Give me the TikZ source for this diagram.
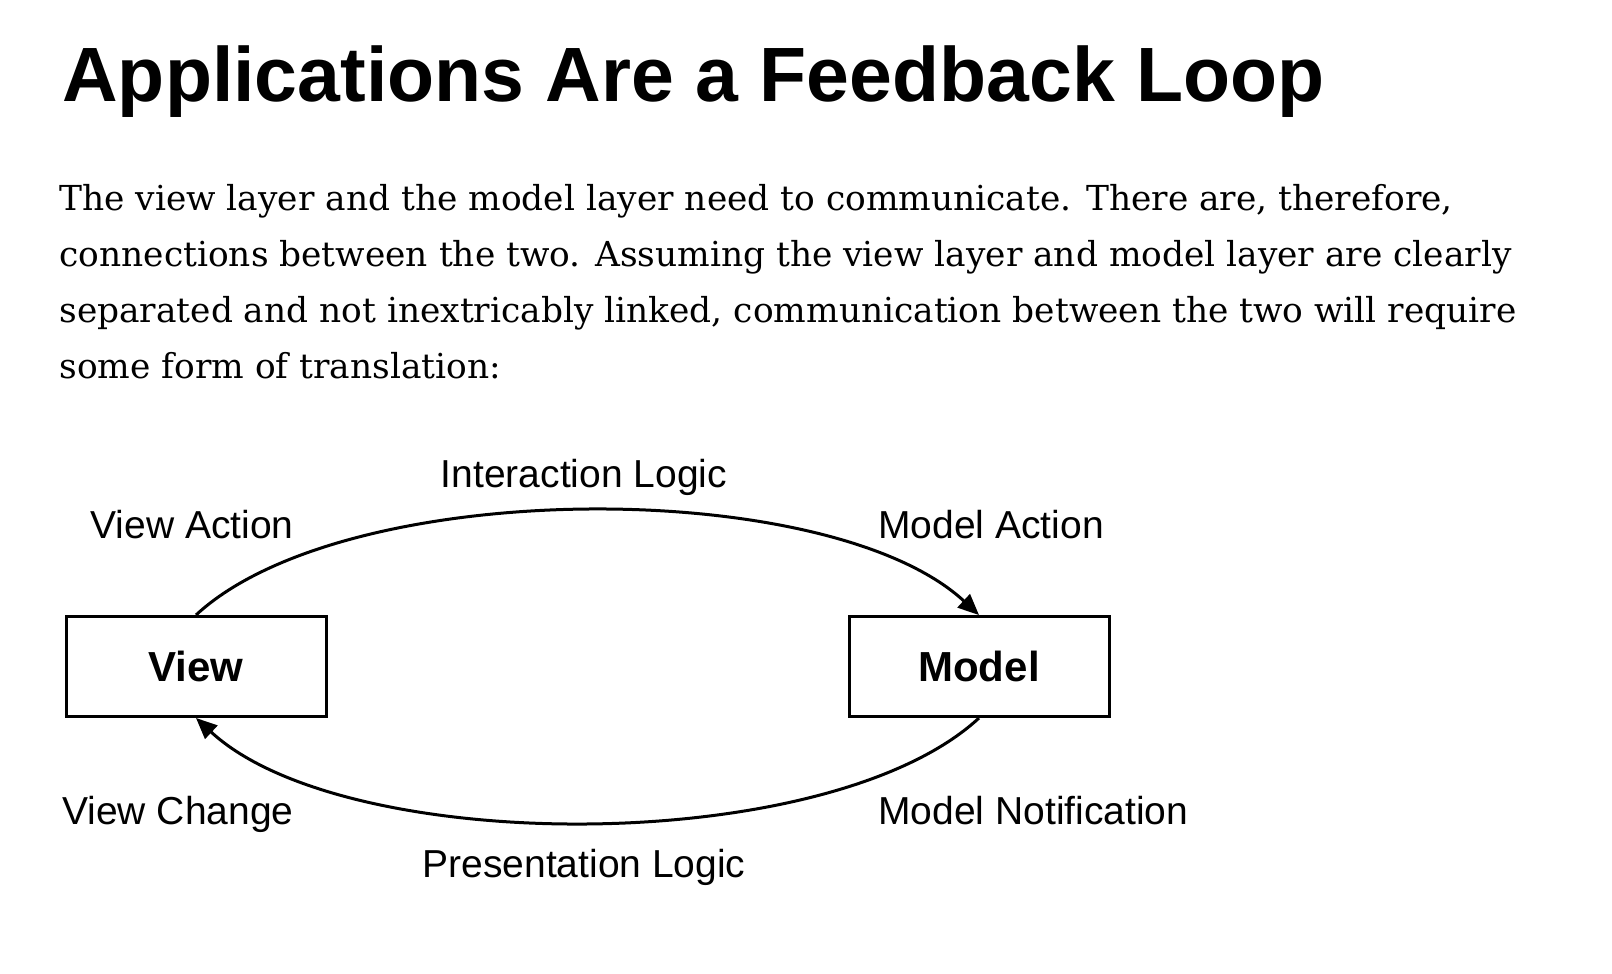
\documentclass[tikz,border=0pt]{standalone}
\usepackage{fontspec}
\setmainfont{DejaVu Serif}
\newfontfamily\grotesk{Liberation Sans}
\usetikzlibrary{positioning,arrows.meta}

\begin{document}
\begin{tikzpicture}[
  x=0.5pt, y=-0.5pt,
  layer/.style={draw, line width=1.5pt, minimum width=130pt, minimum height=50pt, inner sep=0pt,
                font=\grotesk\fontsize{21}{25}\selectfont\bfseries},
  tag/.style={inner sep=0pt, font=\grotesk\fontsize{19.5}{23}\selectfont},
  flow/.style={line width=1.5pt, -{Triangle[length=10.5pt,width=9pt]}},
  node distance=260pt]
\useasboundingbox (0,0) rectangle (1612,974);
% heading and text
\node[anchor=base west, inner sep=0pt, font=\grotesk\fontsize{38.5}{44}\selectfont\bfseries] (title) at (62,102)
  {Applications Are a Feedback Loop};
\node[anchor=base west, inner sep=0pt, align=left, font=\fontsize{17.2}{28}\selectfont] (intro) at (59,378)
  {The view layer and the model layer need to communicate. There are, therefore,\\
   connections between the two. Assuming the view layer and model layer are clearly\\
   separated and not inextricably linked, communication between the two will require\\
   some form of translation:};
% the loop
\node[layer] (view) at (196,666.5) {View};
\node[layer, right=of view] (model) {Model};
\draw[flow] (view.north) .. controls +(150,-139) and +(-150,-139) .. (model.north);
\draw[flow] (model.south) .. controls +(-150,139) and +(150,139) .. (view.south);
\node[tag, anchor=base] (ilogic) at (584,487) {Interaction Logic};
\node[tag, anchor=base east] (vact) at (294,538) {View Action};
\node[tag, anchor=base west] (mact) at (878,538) {Model Action};
\node[tag, anchor=base east] (vchg) at (294,824) {View Change};
\node[tag, anchor=base west] (mnot) at (878,824) {Model Notification};
\node[tag, anchor=base] (plogic) at (584,877) {Presentation Logic};
\end{tikzpicture}
\end{document}
